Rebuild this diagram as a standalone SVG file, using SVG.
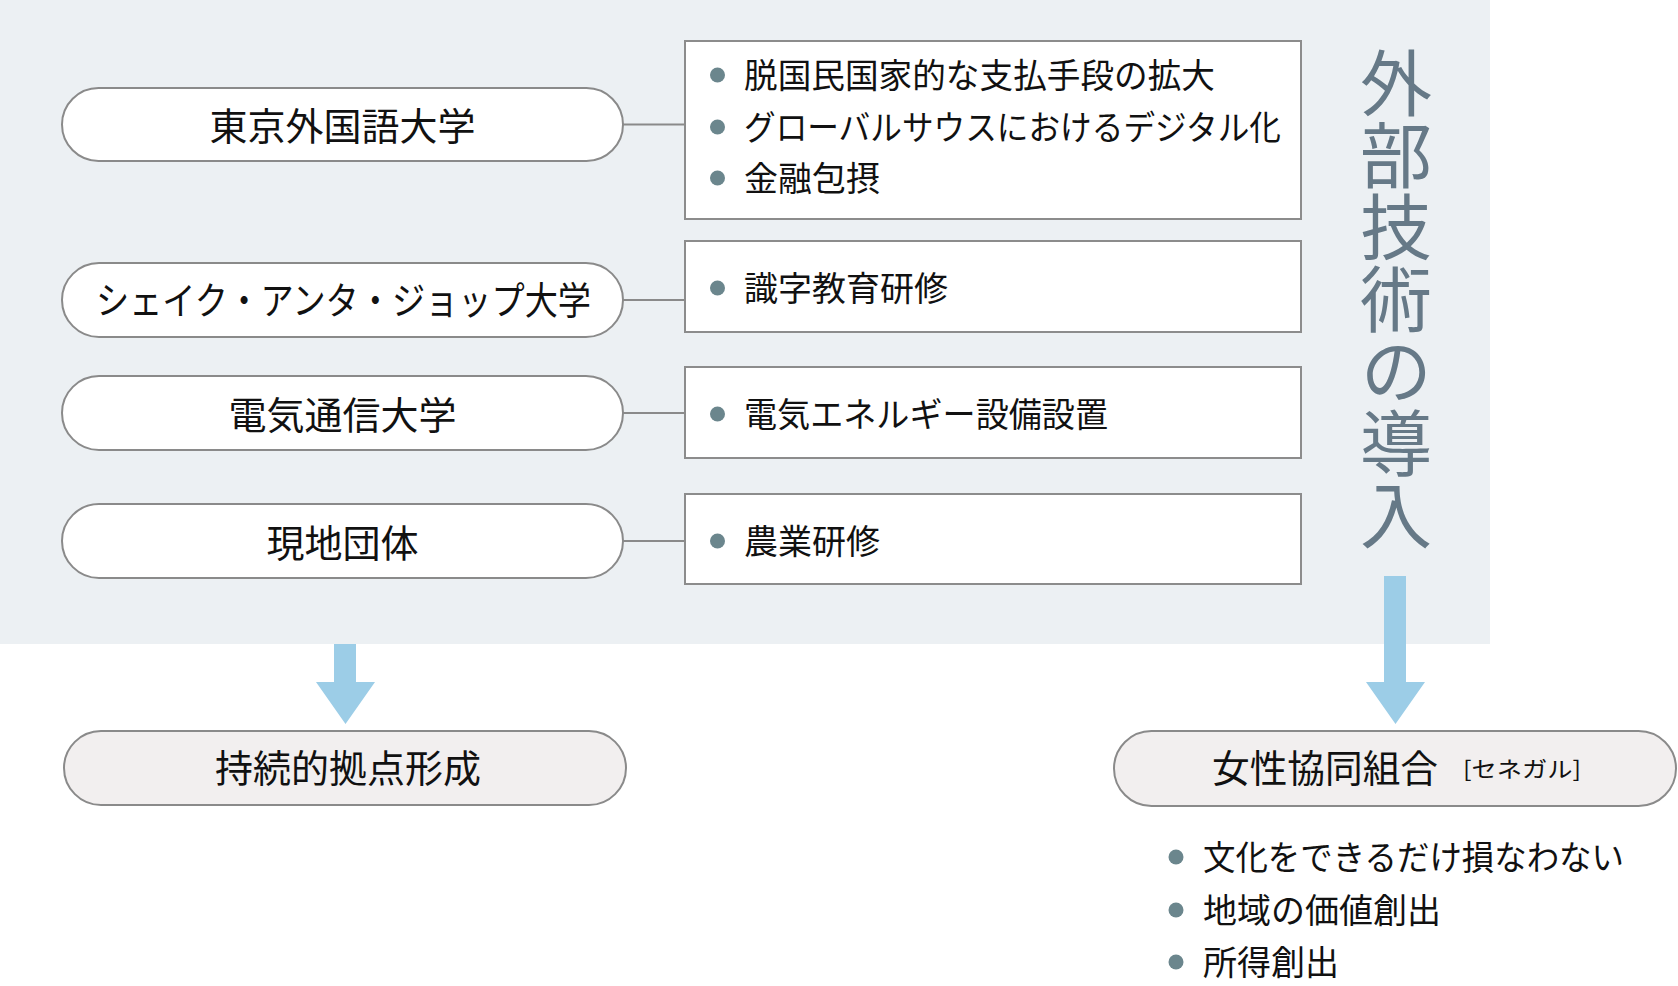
<svg xmlns="http://www.w3.org/2000/svg" width="1678" height="986" viewBox="0 0 1678 986">
<style>
.pill{fill:#ffffff;stroke:#8a8a8a;stroke-width:2}
.pillb{fill:#f2efef;stroke:#8a8a8a;stroke-width:2}
.box{fill:#ffffff;stroke:#8c8c8c;stroke-width:2}
.conn{stroke:#8a8a8a;stroke-width:2;fill:none}
.arrow{fill:#9ccde7}
.dot{fill:#6b868d}
.pt{font-family:"Noto Sans CJK JP","Noto Sans CJK SC",sans-serif;font-size:38px;fill:#111111;text-anchor:middle}
.bt{font-family:"Noto Sans CJK JP","Noto Sans CJK SC",sans-serif;font-size:34px;fill:#111111}
.sm{font-family:"Noto Sans CJK JP","Noto Sans CJK SC",sans-serif;font-size:22px;fill:#111111}
.title{font-family:"Noto Sans CJK JP","Noto Sans CJK SC",sans-serif;font-size:72px;fill:#667987;writing-mode:vertical-rl;text-anchor:start}
</style>
<rect id="background" x="0" y="0" width="1490" height="644" fill="#ecf0f3"/>

<g id="connectors">
  <line class="conn" x1="623" y1="124.5" x2="685" y2="124.5"/>
  <line class="conn" x1="623" y1="300" x2="685" y2="300"/>
  <line class="conn" x1="623" y1="413" x2="685" y2="413"/>
  <line class="conn" x1="623" y1="541" x2="685" y2="541"/>
  <polygon class="arrow" points="334,644 356,644 356,682 375,682 345.5,724 316,682 334,682"/>
  <polygon class="arrow" points="1384,576 1406,576 1406,682 1425,682 1395.5,724 1366,682 1384,682"/>
</g>

<g id="node-tufs">
  <rect class="pill" x="62" y="88" width="561" height="73" rx="36.5"/>
  <text class="pt" x="342.5" y="140">東京外国語大学</text>
</g>
<g id="node-ucad">
  <rect class="pill" x="62" y="263" width="561" height="74" rx="37"/>
  <text class="pt" x="96" y="314" style="text-anchor:start" textLength="495" lengthAdjust="spacingAndGlyphs">シェイク・アンタ・ジョップ大学</text>
</g>
<g id="node-uec">
  <rect class="pill" x="62" y="376" width="561" height="74" rx="37"/>
  <text class="pt" x="342.5" y="429">電気通信大学</text>
</g>
<g id="node-local">
  <rect class="pill" x="62" y="504" width="561" height="74" rx="37"/>
  <text class="pt" x="342.5" y="557">現地団体</text>
</g>

<g id="box-tufs">
  <rect class="box" x="685" y="41" width="616" height="178"/>
  <circle class="dot" cx="717.5" cy="75" r="7.5"/>
  <text class="bt" x="744" y="88" textLength="471" lengthAdjust="spacingAndGlyphs">脱国民国家的な支払手段の拡大</text>
  <circle class="dot" cx="717.5" cy="127" r="7.5"/>
  <text class="bt" x="744" y="140" textLength="537" lengthAdjust="spacingAndGlyphs">グローバルサウスにおけるデジタル化</text>
  <circle class="dot" cx="717.5" cy="178" r="7.5"/>
  <text class="bt" x="744" y="191">金融包摂</text>
</g>
<g id="box-ucad">
  <rect class="box" x="685" y="241" width="616" height="91"/>
  <circle class="dot" cx="717.5" cy="288" r="7.5"/>
  <text class="bt" x="744" y="301">識字教育研修</text>
</g>
<g id="box-uec">
  <rect class="box" x="685" y="367" width="616" height="91"/>
  <circle class="dot" cx="717.5" cy="414" r="7.5"/>
  <text class="bt" x="744" y="427" textLength="364" lengthAdjust="spacingAndGlyphs">電気エネルギー設備設置</text>
</g>
<g id="box-local">
  <rect class="box" x="685" y="494" width="616" height="90"/>
  <circle class="dot" cx="717.5" cy="541" r="7.5"/>
  <text class="bt" x="744" y="554">農業研修</text>
</g>

<g id="title">
  <text class="title" x="1396" y="47">外部技術の導入</text>
</g>

<g id="node-base">
  <rect class="pillb" x="64" y="731" width="562" height="74" rx="37"/>
  <text class="pt" x="348" y="782">持続的拠点形成</text>
</g>

<g id="node-coop">
  <rect class="pillb" x="1114" y="731" width="562" height="75" rx="37.5"/>
  <text class="pt" x="1212" y="782" style="text-anchor:start" textLength="226" lengthAdjust="spacingAndGlyphs">女性協同組合</text>
  <text class="sm" x="1463" y="777" textLength="118" lengthAdjust="spacingAndGlyphs">[セネガル]</text>
</g>

<g id="coop-list">
  <circle class="dot" cx="1176" cy="857" r="7.5"/>
  <text class="bt" x="1203" y="870" textLength="421" lengthAdjust="spacingAndGlyphs">文化をできるだけ損なわない</text>
  <circle class="dot" cx="1176" cy="910" r="7.5"/>
  <text class="bt" x="1203" y="923">地域の価値創出</text>
  <circle class="dot" cx="1176" cy="962" r="7.5"/>
  <text class="bt" x="1203" y="975">所得創出</text>
</g>
</svg>
